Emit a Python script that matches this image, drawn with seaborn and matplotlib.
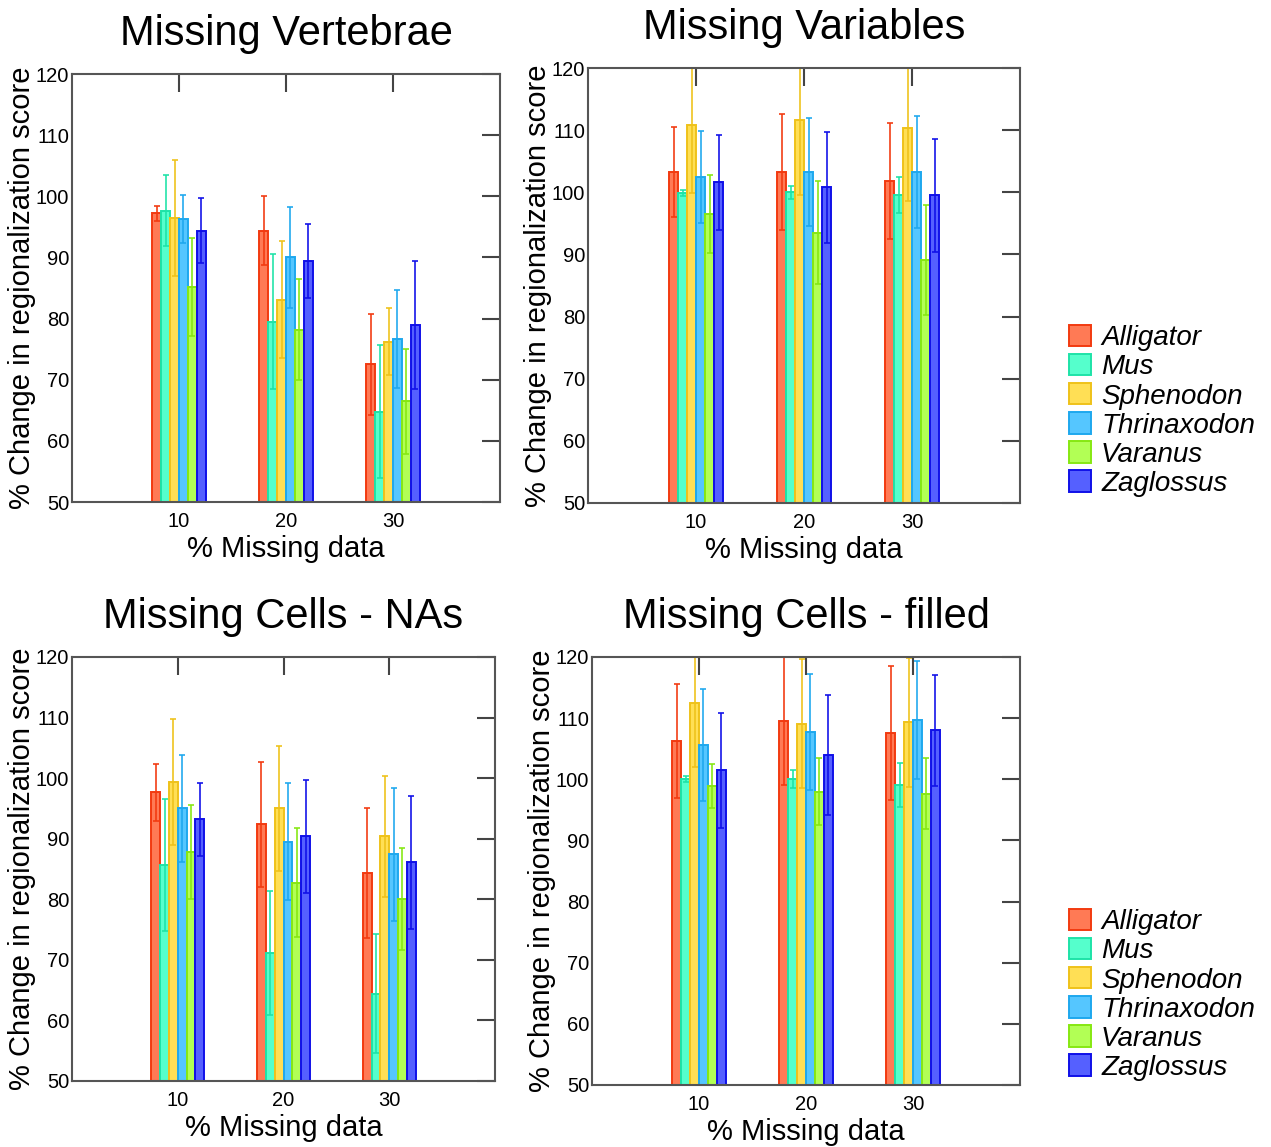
import numpy as np
import pandas as pd
import seaborn as sns
import matplotlib.pyplot as plt
from matplotlib.patches import Patch
from matplotlib.container import BarContainer

species = ["Alligator", "Mus", "Sphenodon", "Thrinaxodon", "Varanus", "Zaglossus"]
missing = [10, 20, 30]

# means: one row per species, one column per % missing
vert_mean = [[97.2, 94.4, 72.5], [97.6, 79.5, 64.8], [96.5, 83.1, 76.2],
             [96.3, 90.0, 76.7], [85.1, 78.2, 66.5], [94.4, 89.4, 78.9]]
vert_sd = [[1.2, 5.6, 8.2], [5.8, 11.0, 10.8], [9.5, 9.6, 5.5],
           [3.9, 8.2, 8.0], [8.0, 8.3, 8.6], [5.3, 6.0, 10.5]]

var_mean = [[103.3, 103.3, 101.8], [99.9, 100.0, 99.5], [110.9, 111.6, 110.3],
            [102.5, 103.3, 103.3], [96.5, 93.5, 89.1], [101.6, 100.8, 99.5]]
var_sd = [[7.2, 9.3, 9.3], [0.5, 1.0, 2.9], [11.0, 12.0, 11.7],
          [7.4, 8.7, 9.0], [6.3, 8.3, 8.8], [7.6, 8.9, 9.1]]

na_mean = [[97.7, 92.4, 84.3], [85.6, 71.1, 64.4], [99.3, 95.0, 90.4],
           [95.0, 89.5, 87.4], [87.8, 82.7, 80.0], [93.2, 90.4, 86.1]]
na_sd = [[4.7, 10.3, 10.7], [10.9, 10.2, 9.8], [10.4, 10.3, 10.0],
         [8.8, 9.7, 11.0], [7.8, 9.0, 8.4], [6.0, 9.3, 11.0]]

fill_mean = [[106.3, 109.5, 107.6], [100.0, 100.0, 99.1], [112.5, 109.1, 109.3],
             [105.6, 107.7, 109.7], [98.9, 98.0, 97.6], [101.5, 104.0, 108.0]]
fill_sd = [[9.3, 10.5, 11.0], [0.5, 1.5, 3.6], [10.5, 10.5, 10.5],
           [9.2, 9.5, 9.7], [3.6, 5.4, 5.8], [9.4, 9.8, 9.1]]

face = ["#FF7A55", "#55FFCC", "#FFDF55", "#55C6FF", "#B2FF55", "#5560FF"]
edge = ["#F23A10", "#1EE3A8", "#EFC21A", "#1EA8EE", "#86E812", "#1010E8"]

sns.set_theme(style="white")
plt.rcParams["font.family"] = ["Liberation Sans", "DejaVu Sans"]
plt.rcParams["text.color"] = "black"
plt.rcParams["axes.labelcolor"] = "black"
plt.rcParams["xtick.color"] = "black"
plt.rcParams["ytick.color"] = "black"

fig = plt.figure(figsize=(12.71, 11.47), dpi=100)
W, H = 1271, 1147


def px_axes(x0, y0, x1, y1):
    return fig.add_axes([x0 / W, 1 - y1 / H, (x1 - x0) / W, (y1 - y0) / H])


def panel(ax, means, sds, title):
    df = pd.DataFrame([(species[i], missing[j], means[i][j])
                       for i in range(len(species)) for j in range(len(missing))],
                      columns=["species", "missing", "score"])
    sns.barplot(data=df, x="missing", y="score", hue="species", hue_order=species,
                palette=face, native_scale=True, width=0.5, errorbar=None,
                saturation=1, legend=False, ax=ax)
    bars = [c for c in ax.containers if isinstance(c, BarContainer)]
    for k, cont in enumerate(bars):
        xs, ys = [], []
        for p in cont.patches:
            p.set_edgecolor(edge[k])
            p.set_linewidth(1.4)
            xs.append(p.get_x() + p.get_width() / 2)
            ys.append(p.get_height())
        order = np.argsort(xs)
        xs = np.array(xs)[order]
        ys = np.array(ys)[order]
        ax.errorbar(xs, ys, yerr=sds[k], fmt="none", ecolor=edge[k],
                    elinewidth=1.3, capsize=2, capthick=1.3, alpha=0.9)
    ax.set_xlim(0, 40)
    ax.set_ylim(50, 120)
    ax.set_xticks(missing)
    ax.set_yticks(range(50, 121, 10))
    ax.tick_params(direction="in", top=True, right=True, length=13, width=1.5,
                   color="#444444", labelcolor="black", labelsize=14.5, pad=2)
    ax.tick_params(axis="x", pad=7)
    for s in ax.spines.values():
        s.set_color("#555555")
        s.set_linewidth(1.5)
    ax.set_xlabel("% Missing data", fontsize=21, labelpad=3, color="black")
    ax.set_ylabel("% Change in regionalization score", fontsize=21, labelpad=0,
                  color="black")
    ax.set_title(title, fontsize=30, pad=21, color="black")


ax1 = px_axes(72, 74, 500, 502)
panel(ax1, vert_mean, vert_sd, "Missing Vertebrae")
ax2 = px_axes(588, 68, 1020, 503)
panel(ax2, var_mean, var_sd, "Missing Variables")
ax3 = px_axes(72, 657, 495, 1081)
panel(ax3, na_mean, na_sd, "Missing Cells - NAs")
ax4 = px_axes(592, 657, 1020, 1085)
panel(ax4, fill_mean, fill_sd, "Missing Cells - filled")

handles = [Patch(facecolor=face[i], edgecolor=edge[i], linewidth=1.4, label=species[i])
           for i in range(len(species))]
for ytop in (314, 898):
    fig.legend(handles=handles, loc="upper left",
               bbox_to_anchor=(1058 / W, 1 - ytop / H), frameon=False,
               prop={"size": 20, "style": "italic"}, handlelength=0.8,
               handleheight=0.8, handletextpad=0.35, labelspacing=0.1,
               borderaxespad=0)

fig.savefig("out.png", dpi=100)
